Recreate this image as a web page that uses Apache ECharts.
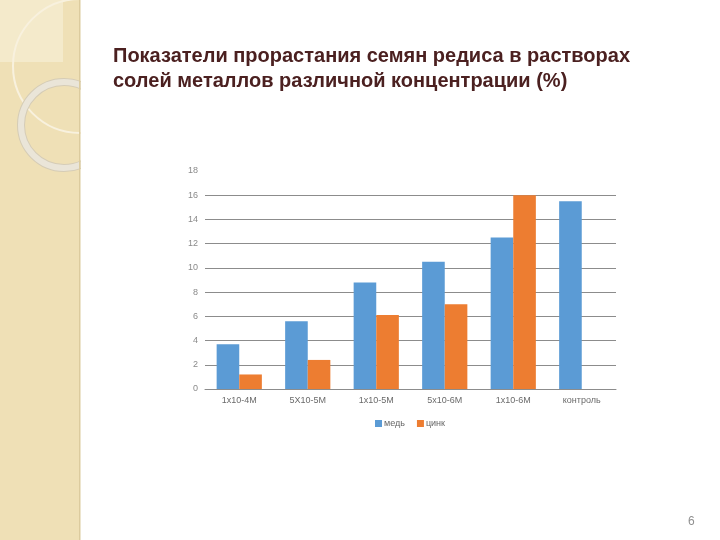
<!DOCTYPE html>
<html>
<head>
<meta charset="utf-8">
<script src="https://cdn.jsdelivr.net/npm/echarts@6/dist/echarts.min.js"></script>
<style>html,body{margin:0;padding:0;background:#fff}#c{width:720px;height:540px}</style>
</head>
<body>
<div id="c"></div>
<script>
const categories = ['1x10-4M', '5X10-5M', '1x10-5M', '5x10-6M', '1x10-6M', 'контроль'];
const copperValues = [3.7, 5.6, 8.8, 10.5, 12.5, 15.5];
const zincValues = [1.2, 2.4, 6.1, 7.0, 16.0, null];
const seriesNames = ['медь', 'цинк'];
const titleText = 'Показатели прорастания семян редиса в растворах\nсолей металлов различной концентрации (%)';

const chart = echarts.init(document.getElementById('c'), null, {renderer: 'canvas'});
chart.setOption({
  backgroundColor: '#ffffff',
  animation: false,
  textStyle: {fontFamily: 'Liberation Sans, Arial, sans-serif'},
  title: {
    text: titleText,
    left: 113, top: 44, padding: 0,
    textStyle: {fontSize: 20, fontWeight: 'bold', color: '#4B2020', lineHeight: 25, fontFamily: 'Liberation Sans, Arial, sans-serif'}
  },
  graphic: [
    {type: 'group', silent: true, z: -10, children: [
      {type: 'rect', shape: {x: 0, y: 0, width: 79, height: 540}, style: {fill: '#EFE0B6'}},
      {type: 'rect', shape: {x: 0, y: 0, width: 63, height: 62}, style: {fill: '#F4EACB'}},
      {type: 'group', clipPath: {type: 'rect', shape: {x: 0, y: 0, width: 81, height: 540}}, children: [
        {type: 'circle', shape: {cx: 80, cy: 66, r: 67}, style: {fill: null, stroke: '#F8F1DE', lineWidth: 2}},
        {type: 'circle', shape: {cx: 64, cy: 125, r: 43}, style: {fill: null, stroke: '#D5CCB6', lineWidth: 8}},
        {type: 'circle', shape: {cx: 64, cy: 125, r: 43}, style: {fill: null, stroke: '#EAE5D8', lineWidth: 6}}
      ]},
      {type: 'rect', shape: {x: 79, y: 0, width: 1.5, height: 540}, style: {fill: '#DCCB9E'}}
    ]},
    {type: 'text', left: 688, top: 516, style: {text: '6', fontSize: 12, fill: '#8f8f8f', fontFamily: 'Liberation Sans, Arial, sans-serif'}}
  ],
  legend: {
    data: seriesNames,
    top: 414, left: 370,
    itemWidth: 7, itemHeight: 7, itemGap: 12,
    icon: 'rect',
    textStyle: {fontSize: 9, color: '#666', padding: [0, 0, 0, -3]}
  },
  grid: {left: 205, right: 104, top: 171, bottom: 151, containLabel: false},
  xAxis: {
    type: 'category', data: categories,
    axisLine: {lineStyle: {color: '#8c8c8c', width: 1}},
    axisTick: {show: false},
    axisLabel: {fontSize: 9, color: '#6a6a6a', margin: 7}
  },
  yAxis: {
    type: 'value', min: 0, max: 18, interval: 2,
    axisLine: {show: false}, axisTick: {show: false},
    axisLabel: {fontSize: 9, color: '#8a8a8a', margin: 7},
    splitLine: {showMaxLine: false, lineStyle: {color: '#8c8c8c', width: 1}}
  },
  series: [
    {name: seriesNames[0], type: 'bar', data: copperValues, barGap: '0%', barCategoryGap: '34%',
     itemStyle: {color: '#5B9BD5'}},
    {name: seriesNames[1], type: 'bar', data: zincValues,
     itemStyle: {color: '#ED7D31'}}
  ]
});
</script>
</body>
</html>
